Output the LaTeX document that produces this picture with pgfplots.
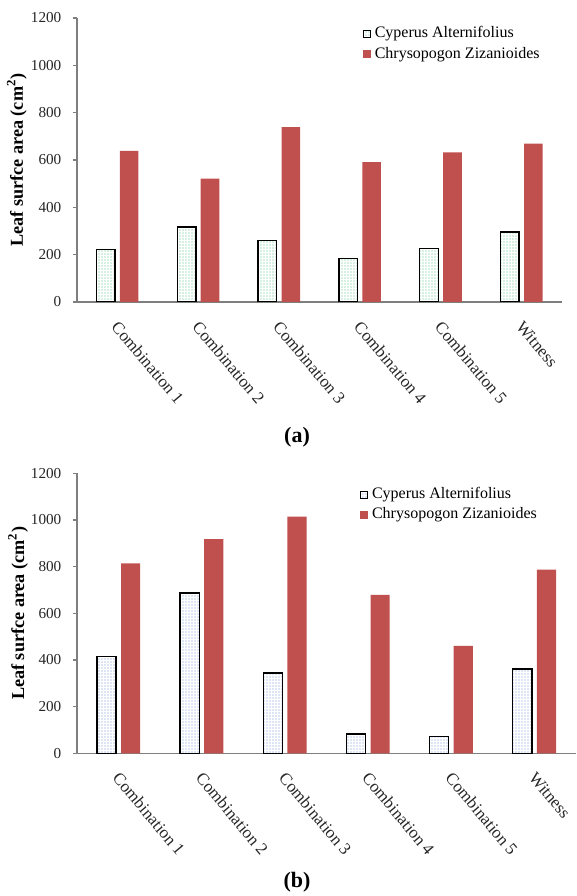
\documentclass[border=0pt]{standalone}
\usepackage{pgfplots}
\pgfplotsset{compat=1.18}
\usepackage{fontspec}
\setmainfont{Liberation Serif}
\usetikzlibrary{patterns.meta}
\definecolor{cz}{HTML}{C0504D}
\definecolor{dotg}{HTML}{4FBF80}
\definecolor{dotb}{HTML}{6F92D2}
\definecolor{axgray}{HTML}{7F7F7F}

\pgfplotsset{
  mybase/.style={
    scale only axis, anchor=south west,
    xmin=-0.5, xmax=5.5, ymin=0, ymax=1200,
    axis lines=left,
    axis line style={-, draw=axgray, line width=0.6pt},
    xtick={0,1,2,3,4,5},
    xticklabels={Combination 1,Combination 2,Combination 3,Combination 4,Combination 5,Witness},
    ytick={0,200,400,600,800,1000,1200},
    xtick style={draw=none},
    ytick style={draw=axgray, line width=0.6pt},
    tick align=outside, major tick length=2pt,
    /pgf/number format/assume math mode=true,
    /pgf/number format/1000 sep={},
    yticklabel style={font=\fontsize{7.6}{9}\selectfont, text=black!85, xshift=-2.3pt},
    xticklabel style={font=\fontsize{8.5}{10}\selectfont, rotate=-50, anchor=north west, text=black!85, xshift=2.5pt},
    ylabel={Leaf surfce area (cm\textsuperscript{2})},
    legend style={draw=none, fill=none, anchor=north west,
      font=\fontsize{8}{9.5}\selectfont, inner sep=0pt, row sep=-1pt},
    legend cell align=left,
  },
  cyp/.style={ybar, bar width=0.23, bar shift=-0.145, draw=black, line width=0.7pt,
    pattern={Dots[distance=1.5pt, radius=0.33pt]}, pattern color=#1,
    legend image code/.code={\draw[##1, line width=0.5pt] (0pt,-1.8pt) rectangle (3.6pt,1.8pt);}},
  chr/.style={ybar, bar width=0.23, bar shift=0.145, draw=none, fill=cz,
    legend image code/.code={\fill[cz] (0pt,-1.9pt) rectangle (3.8pt,1.9pt);}},
}

\begin{document}
\begin{tikzpicture}
\useasboundingbox (0,0) rectangle (288.5pt,448pt);

% (a)
\begin{axis}[mybase, at={(38.5pt,297pt)}, width=242.5pt, height=142pt,
  ylabel style={at={(axis description cs:-0.124,0.5)}, anchor=center, font=\fontsize{9.1}{11}\selectfont\bfseries},
  legend style={at={(axis description cs:0.588,0.985)}}]
\addplot[cyp=dotg] coordinates {(0,222) (1,317) (2,259) (3,185) (4,225) (5,296)};
\addlegendentry{Cyperus Alternifolius}
\addplot[chr] coordinates {(0,639) (1,521) (2,739) (3,591) (4,632) (5,669)};
\addlegendentry{Chrysopogon Zizanioides}
\end{axis}

% (b)
\begin{axis}[mybase, at={(38.5pt,71.35pt)}, width=249.5pt, height=140pt,
  ylabel style={at={(axis description cs:-0.118,0.5)}, anchor=center, font=\fontsize{9.1}{11}\selectfont\bfseries},
  legend style={at={(axis description cs:0.566,0.965)}}]
\addplot[cyp=dotb] coordinates {(0,416) (1,687) (2,344) (3,83) (4,73) (5,361)};
\addlegendentry{Cyperus Alternifolius}
\addplot[chr] coordinates {(0,814) (1,918) (2,1014) (3,679) (4,460) (5,787)};
\addlegendentry{Chrysopogon Zizanioides}
\end{axis}

\node[font=\fontsize{11}{13}\selectfont\bfseries] at (148.5pt,229.5pt) {(a)};
\node[font=\fontsize{11}{13}\selectfont\bfseries] at (148.5pt,6.8pt) {(b)};
\end{tikzpicture}
\end{document}
